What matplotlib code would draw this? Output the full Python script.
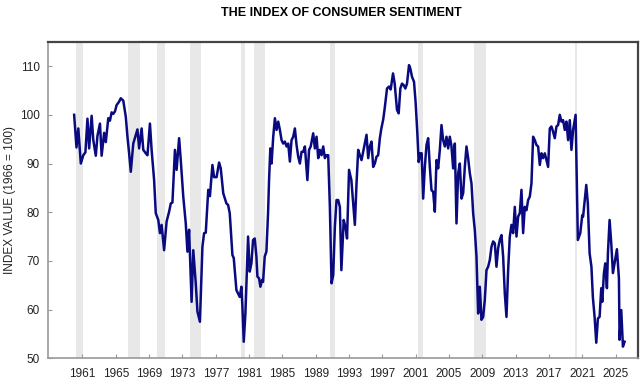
import matplotlib
matplotlib.use("Agg")
import matplotlib.pyplot as plt
import numpy as np

plt.rcParams['font.family'] = ['Liberation Sans', 'DejaVu Sans']

dates = [
    1960.0, 1960.28, 1960.5, 1960.8, 1961.1, 1961.35, 1961.6, 1961.8, 1962.1, 1962.3,
    1962.6, 1962.8, 1963.1, 1963.3, 1963.6, 1963.8, 1964.1, 1964.3, 1964.5, 1964.7,
    1964.9, 1965.1, 1965.4, 1965.6, 1965.9, 1966.2, 1966.4, 1966.6, 1966.8, 1967.1,
    1967.4, 1967.6, 1967.8, 1968.1, 1968.3, 1968.6, 1968.8, 1969.1, 1969.3, 1969.6,
    1969.8, 1970.1, 1970.3, 1970.5, 1970.8, 1971.1, 1971.4, 1971.6, 1971.8, 1972.1,
    1972.3, 1972.6, 1972.8, 1973.1, 1973.4, 1973.6, 1973.8, 1974.1, 1974.3, 1974.6,
    1974.8, 1975.1, 1975.4, 1975.6, 1975.8, 1976.1, 1976.3, 1976.6, 1976.8, 1977.1,
    1977.4, 1977.6, 1977.9, 1978.28, 1978.48, 1978.68, 1979.0, 1979.16, 1979.48, 1979.68,
    1979.88, 1980.08, 1980.2, 1980.36, 1980.56, 1980.88, 1981.08, 1981.28, 1981.48, 1981.68,
    1981.88, 1982.0, 1982.2, 1982.36, 1982.56, 1982.68, 1982.88, 1983.08, 1983.28, 1983.4,
    1983.55, 1983.7, 1983.9, 1984.1, 1984.3, 1984.5, 1984.7, 1984.9, 1985.1, 1985.3,
    1985.5, 1985.7, 1985.9, 1986.1, 1986.3, 1986.5, 1986.7, 1986.9, 1987.1, 1987.3,
    1987.5, 1987.7, 1988.0, 1988.2, 1988.4, 1988.7, 1988.9, 1989.1, 1989.3, 1989.5,
    1989.7, 1989.9, 1990.1, 1990.3, 1990.5, 1990.7, 1990.9, 1991.1, 1991.3, 1991.5,
    1991.7, 1991.9, 1992.08, 1992.36, 1992.6, 1992.76, 1993.0, 1993.28, 1993.5, 1993.7,
    1993.9, 1994.1, 1994.3, 1994.5, 1994.7, 1994.9, 1995.1, 1995.3, 1995.5, 1995.7,
    1995.9, 1996.1, 1996.3, 1996.5, 1996.7, 1996.88, 1997.1, 1997.28, 1997.56, 1997.8,
    1998.0, 1998.28, 1998.48, 1998.76, 1998.96, 1999.16, 1999.36, 1999.56, 1999.76, 1999.96,
    2000.2, 2000.36, 2000.56, 2000.8, 2001.0, 2001.2, 2001.36, 2001.55, 2001.72, 2001.9,
    2002.1, 2002.3, 2002.5, 2002.7, 2002.9, 2003.1, 2003.3, 2003.5, 2003.7, 2003.9,
    2004.1, 2004.3, 2004.5, 2004.7, 2004.9, 2005.1, 2005.3, 2005.5, 2005.7, 2005.9,
    2006.1, 2006.3, 2006.5, 2006.7, 2006.9, 2007.1, 2007.3, 2007.5, 2007.7, 2007.9,
    2008.1, 2008.3, 2008.5, 2008.7, 2008.9, 2009.1, 2009.3, 2009.5, 2009.7, 2009.9,
    2010.1, 2010.3, 2010.5, 2010.7, 2010.9, 2011.1, 2011.3, 2011.5, 2011.7, 2011.9,
    2012.1, 2012.3, 2012.5, 2012.7, 2012.9, 2013.1, 2013.3, 2013.5, 2013.7, 2013.9,
    2014.1, 2014.3, 2014.5, 2014.7, 2014.9, 2015.1, 2015.3, 2015.5, 2015.7, 2015.9,
    2016.1, 2016.3, 2016.5, 2016.7, 2016.9, 2017.1, 2017.3, 2017.5, 2017.7, 2017.9,
    2018.1, 2018.3, 2018.5, 2018.7, 2018.9, 2019.1, 2019.3, 2019.5, 2019.7, 2019.9,
    2020.1, 2020.2, 2020.47, 2020.76, 2021.0, 2021.1, 2021.48, 2021.67, 2021.88, 2022.1,
    2022.27, 2022.48, 2022.68, 2022.88, 2023.08, 2023.28, 2023.4, 2023.6, 2023.76, 2023.96,
    2024.08, 2024.28, 2024.48, 2024.68, 2024.88, 2025.16, 2025.4, 2025.48, 2025.68, 2025.88,
    2026.08,
]

sentiment = [
    100.0, 93.3, 97.2, 90.0, 91.7, 92.3, 99.2, 93.1, 99.8, 94.8,
    91.6, 95.7, 98.2, 91.6, 96.3, 94.4, 99.3, 98.8, 100.5, 100.2,
    100.7, 102.0, 102.7, 103.4, 102.9, 99.6, 95.5, 92.1, 88.3, 94.1,
    95.8, 97.0, 93.1, 97.2, 92.8, 92.1, 91.7, 98.2, 92.8, 86.6,
    79.8, 78.4, 75.7, 77.4, 72.2, 78.1, 80.1, 81.8, 82.0, 92.8,
    88.7, 95.2, 90.7, 83.2, 77.7, 71.9, 76.4, 61.6, 72.2, 65.4,
    59.6, 57.5, 72.9, 75.7, 75.8, 84.6, 83.3, 89.7, 87.2, 87.2,
    90.2, 89.0, 83.9, 81.8, 81.5, 79.8, 71.2, 70.6, 64.0, 63.3,
    62.6, 64.7, 60.6, 53.4, 59.2, 75.0, 67.8, 69.5, 74.3, 74.6,
    70.9, 66.8, 66.4, 64.7, 66.1, 65.7, 70.9, 71.9, 79.8, 86.6,
    93.1, 90.0, 95.5, 99.3, 96.9, 98.6, 96.9, 94.8, 94.1, 94.5,
    93.5, 94.1, 90.4, 94.8, 95.5, 97.2, 93.8, 91.4, 90.0, 92.4,
    92.4, 93.5, 86.6, 92.8, 93.5, 96.2, 93.1, 95.5, 91.1, 92.8,
    91.7, 93.5, 91.1, 91.7, 91.7, 81.1, 65.4, 67.1, 77.0, 82.5,
    82.5, 81.1, 68.1, 78.4, 76.7, 74.6, 88.7, 86.6, 81.8, 77.4,
    85.9, 92.8, 91.7, 90.7, 92.4, 94.1, 95.9, 91.1, 93.5, 94.5,
    89.3, 90.0, 91.4, 91.7, 95.2, 97.2, 99.0, 101.3, 105.4, 105.8,
    105.2, 108.5, 106.4, 101.0, 100.3, 105.4, 106.4, 106.1, 105.4, 106.4,
    110.2, 109.5, 107.8, 106.8, 102.4, 96.2, 90.3, 92.1, 92.1, 82.8,
    89.3, 93.8, 95.2, 89.3, 84.5, 84.2, 80.1, 90.7, 89.0, 92.8,
    97.9, 94.8, 93.5, 95.5, 93.1, 95.5, 93.5, 89.0, 94.1, 77.7,
    88.0, 90.0, 82.8, 83.9, 89.3, 93.5, 91.1, 88.0, 85.9, 79.8,
    76.3, 70.9, 59.2, 64.7, 57.9, 58.5, 62.0, 68.1, 68.8, 70.2,
    72.9, 74.0, 73.6, 68.8, 72.6, 74.3, 75.3, 70.9, 63.3, 58.5,
    68.1, 75.0, 77.4, 75.7, 81.1, 75.0, 79.1, 79.8, 84.6, 75.7,
    81.1, 80.4, 82.5, 83.2, 85.9, 95.5, 94.8, 93.8, 93.5, 89.7,
    92.1, 91.1, 92.1, 90.7, 89.3, 97.2, 97.6, 96.5, 95.2, 97.6,
    97.9, 100.0, 98.6, 98.9, 96.9, 98.6, 94.8, 98.9, 92.8, 96.9,
    98.9, 100.0, 74.3, 75.7, 79.4, 79.1, 85.6, 81.8, 71.6, 68.8,
    62.6, 58.5, 53.2, 58.2, 58.5, 64.4, 61.6, 67.5, 69.5, 64.4,
    71.6, 78.4, 73.6, 67.5, 69.5, 72.4, 66.4, 53.8, 59.9, 52.4,
    53.4,
]

recession_start = [1960.28, 1966.48, 1969.96, 1973.88, 1980.08, 1981.6, 1990.68, 2001.27, 2008.0, 2020.15]
recession_end = [1961.08, 1967.88, 1970.88, 1975.2, 1980.56, 1982.88, 1991.28, 2001.87, 2009.48, 2020.4]

tick_years = list(range(1961, 2026, 4))
y_ticks = [50, 60, 70, 80, 90, 100, 110]

fig = plt.figure(figsize=(6.4, 3.8), dpi=100)
ax = fig.add_axes([0.0755, 0.0571, 0.9215, 0.833])

for s, e in zip(recession_start, recession_end):
    ax.axvspan(s, e, color='#e8e8e8', lw=0, zorder=1)

ax.plot(dates, sentiment, color='#0a0a80', lw=1.8, zorder=3, solid_joinstyle='round')

ax.set_xlim(1956.9, 2027.7)
ax.set_ylim(50, 115)
ax.set_xticks(tick_years)
ax.set_xticklabels([str(y) for y in tick_years], fontsize=8.5)
ax.set_yticks(y_ticks)
ax.set_yticklabels([str(v) for v in y_ticks], fontsize=8.5)
ax.tick_params(axis='both', direction='in', length=3, color='#999999', labelcolor='#222222')
ax.tick_params(axis='x', pad=7)
ax.tick_params(axis='y', pad=6)

for side in ['left', 'bottom']:
    ax.spines[side].set_color('#999999')
    ax.spines[side].set_linewidth(1.2)
for side in ['top', 'right']:
    ax.spines[side].set_color('#444444')
    ax.spines[side].set_linewidth(1.6)

ax.set_ylabel('INDEX VALUE (1966 = 100)', fontsize=8.5, color='#222222', labelpad=3)

fig.text(0.533, 0.967, 'THE INDEX OF CONSUMER SENTIMENT', ha='center', va='center',
         fontsize=9, fontweight='bold')

fig.savefig('out.png', dpi=100)
